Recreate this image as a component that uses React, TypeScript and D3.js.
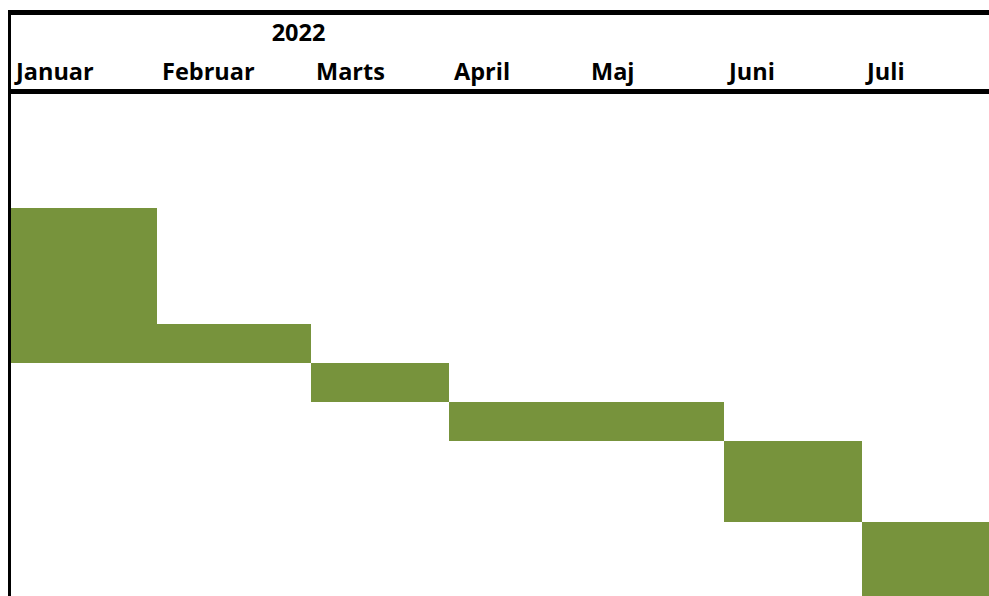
import React, { useRef, useEffect } from 'react';
import * as d3 from 'd3';

// data
const year = '2022';
const months = ['Januar', 'Februar', 'Marts', 'April', 'Maj', 'Juni', 'Juli'];
// one entry per task row (row 0 is an empty row above the tasks)
const taskRows = [1, 2, 3, 4, 5, 6];
const taskStarts = ['Januar', 'Januar', 'Marts', 'April', 'Juni', 'Juli'];
const taskEnds = ['Januar', 'Februar', 'Marts', 'Maj', 'Juni', 'Juli'];

// layout (sheet column widths / row heights)
const colWidths = [146, 154, 138, 137, 138, 138, 138];
const rowHeights = [113, 116, 39, 39, 39, 81, 80];

const App = () => {
    const ref = useRef<SVGSVGElement>(null);

    useEffect(() => {
        const svg = d3.select(ref.current);
        svg.selectAll('*').remove();
        const width = 989;
        const height = 596;
        const left = 11;
        const bodyTop = 95;
        const green = '#77933C';
        const font = "'Open Sans', sans-serif";

        const colEdges = [left, ...Array.from(d3.cumsum(colWidths), d => left + d)];
        const rowEdges = [bodyTop, ...Array.from(d3.cumsum(rowHeights), d => bodyTop + d)];

        const x = d3.scaleOrdinal<string, number>().domain(months).range(colEdges.slice(0, -1));
        const xw = d3.scaleOrdinal<string, number>().domain(months).range(colWidths);
        const y = d3.scaleOrdinal<number, number>().domain(d3.range(rowHeights.length)).range(rowEdges.slice(0, -1));
        const yh = d3.scaleOrdinal<number, number>().domain(d3.range(rowHeights.length)).range(rowHeights);

        // cells of each task, one rect per month
        const cells = taskRows.flatMap((row, i) => {
            const a = months.indexOf(taskStarts[i]);
            const b = months.indexOf(taskEnds[i]);
            return months.slice(a, b + 1).map(m => ({ row, month: m }));
        });

        svg.append('g')
            .selectAll('rect')
            .data(cells)
            .join('rect')
            .attr('x', d => x(d.month))
            .attr('y', d => y(d.row))
            .attr('width', d => xw(d.month))
            .attr('height', d => yh(d.row))
            .attr('fill', green)
            .attr('shape-rendering', 'crispEdges');

        // header
        const header = svg.append('g')
            .attr('font-family', font)
            .attr('font-weight', 700)
            .attr('font-size', 23.5)
            .attr('fill', '#000');

        header.append('text')
            .attr('x', (x('Januar') + x('Maj')) / 2)
            .attr('y', 41)
            .attr('text-anchor', 'middle')
            .text(year);

        header.selectAll('text.month')
            .data(months)
            .join('text')
            .attr('class', 'month')
            .attr('x', d => x(d) + 5)
            .attr('y', 80)
            .text(d => d);

        // borders
        svg.append('rect')
            .attr('x', 8).attr('y', 10)
            .attr('width', width - 8).attr('height', 5)
            .attr('fill', '#000').attr('shape-rendering', 'crispEdges');
        svg.append('rect')
            .attr('x', 8).attr('y', 89)
            .attr('width', width - 8).attr('height', 5)
            .attr('fill', '#000').attr('shape-rendering', 'crispEdges');
        svg.append('rect')
            .attr('x', 8).attr('y', 10)
            .attr('width', 3).attr('height', height - 10)
            .attr('fill', '#000').attr('shape-rendering', 'crispEdges');
    }, []);

    return (
        <svg ref={ref} width="989" height="596"
            style={{ position: 'absolute', left: 0, top: 0, background: '#fff' }}></svg>
    );
};

export default App;
